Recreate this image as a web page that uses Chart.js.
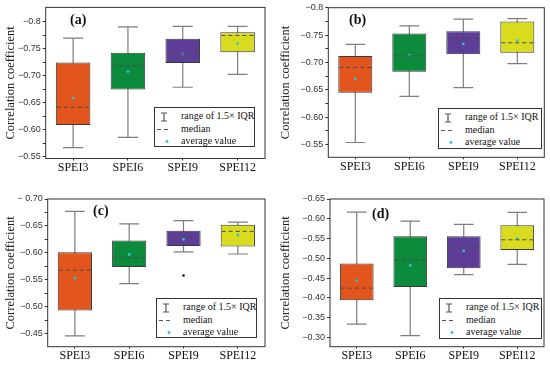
<!DOCTYPE html>
<html>
<head>
<meta charset="utf-8">
<script src="https://cdn.jsdelivr.net/npm/chart.js@4.4.1/dist/chart.umd.min.js"></script>
<style>
  body { margin: 0; background: #fff; }
  #page { position: relative; width: 550px; height: 367px; overflow: hidden; }
  .panel { position: absolute; }
  .tag { position: absolute; font: bold 14px "Liberation Serif", serif; color: #111; }
  .legend {
    position: absolute; border: 1px solid #333; background: #fff;
    font: 10px "Liberation Serif", serif; color: #111; box-sizing: border-box;
    padding: 2px 0 0 0;
  }
  .legend .row { position: relative; height: 12.5px; line-height: 12.5px; padding-left: 26px; white-space: nowrap; }
  .legend svg { position: absolute; left: 0; top: 0; }
</style>
</head>
<body>
<div id="page"></div>
<script>
// Categories shared by every panel
const categories = ['SPEI3', 'SPEI6', 'SPEI9', 'SPEI12'];

// Panel (a)
const aMin    = [-0.770, -0.791, -0.792, -0.792];
const aQ1     = [-0.725, -0.743, -0.769, -0.781];
const aMedian = [-0.642, -0.719, -0.741, -0.775];
const aQ3     = [-0.609, -0.675, -0.724, -0.744];
const aMax    = [-0.567, -0.586, -0.679, -0.703];
const aMean   = [-0.659, -0.708, -0.741, -0.760];
const aTicks  = [-0.8, -0.75, -0.7, -0.65, -0.6, -0.55];
const aLabels = ['\u22120.8', '\u22120.75', '\u22120.70', '\u22120.65', '\u22120.60', '\u22120.55'];

// Panel (b)
const bMin    = [-0.733, -0.767, -0.779, -0.780];
const bQ1     = [-0.712, -0.753, -0.757, -0.775];
const bMedian = [-0.691, -0.712, -0.744, -0.736];
const bQ3     = [-0.645, -0.683, -0.715, -0.718];
const bMax    = [-0.554, -0.638, -0.654, -0.698];
const bMean   = [-0.670, -0.713, -0.734, -0.740];
const bTicks  = [-0.8, -0.75, -0.7, -0.65, -0.6, -0.55];
const bLabels = ['\u22120.8', '\u22120.75', '\u22120.70', '\u22120.65', '\u22120.60', '\u22120.55'];

// Panel (c)
const cMin     = [-0.677, -0.654, -0.660, -0.657];
const cQ1      = [-0.601, -0.623, -0.641, -0.652];
const cMedian  = [-0.568, -0.591, -0.630, -0.640];
const cQ3      = [-0.493, -0.574, -0.613, -0.612];
const cMax     = [-0.446, -0.543, -0.602, -0.598];
const cMean    = [-0.553, -0.597, -0.625, -0.633];
const cOutlier = [null, null, -0.558, null];
const cTicks   = [-0.7, -0.65, -0.6, -0.55, -0.5, -0.45];
const cLabels  = ['\u2212 0.70', '\u22120.65', '\u22120.60', '\u22120.55', '\u22120.50', '\u22120.45'];

// Panel (d)
const dMin    = [-0.617, -0.594, -0.586, -0.616];
const dQ1     = [-0.487, -0.556, -0.556, -0.584];
const dMedian = [-0.425, -0.496, -0.529, -0.547];
const dQ3     = [-0.394, -0.428, -0.475, -0.521];
const dMax    = [-0.334, -0.305, -0.459, -0.485];
const dMean   = [-0.444, -0.482, -0.519, -0.550];
const dTicks  = [-0.65, -0.6, -0.55, -0.5, -0.45, -0.4, -0.35, -0.3];
const dLabels = ['\u22120.65', '\u22120.60', '\u22120.55', '\u22120.50', '\u22120.45', '\u22120.40', '\u22120.35', '\u22120.30'];

const boxColors = ['#E2561D', '#0C8B3D', '#5D3D98', '#D9DB1F'];

const panels = [
  { tag: '(a)', left: 0, top: 0, w: 275, h: 180, yw: 45.7, pt: 6.7, pr: 10, xh: 21.5,
    yMin: -0.827, yMax: -0.547, ticks: aTicks, labels: aLabels,
    min: aMin, q1: aQ1, med: aMedian, q3: aQ3, max: aMax, mean: aMean, out: null,
    tagPos: [70, 12], legend: [154, 107, 101, 40] },
  { tag: '(b)', left: 275, top: 0, w: 275, h: 180, yw: 53.3, pt: 7.7, pr: 5.7, xh: 22.7,
    yMin: -0.8, yMax: -0.527, ticks: bTicks, labels: bLabels,
    min: bMin, q1: bQ1, med: bMedian, q3: bQ3, max: bMax, mean: bMean, out: null,
    tagPos: [349, 12], legend: [438, 108, 104, 41] },
  { tag: '(c)', left: 0, top: 180, w: 275, h: 187, yw: 47.7, pt: 19, pr: 10, xh: 20.3,
    yMin: -0.70, yMax: -0.426, ticks: cTicks, labels: cLabels,
    min: cMin, q1: cQ1, med: cMedian, q3: cQ3, max: cMax, mean: cMean, out: cOutlier,
    tagPos: [93, 203], legend: [156, 298, 101, 40] },
  { tag: '(d)', left: 275, top: 180, w: 275, h: 187, yw: 55, pt: 19, pr: 6, xh: 20.3,
    yMin: -0.65, yMax: -0.277, ticks: dTicks, labels: dLabels,
    min: dMin, q1: dQ1, med: dMedian, q3: dQ3, max: dMax, mean: dMean, out: null,
    tagPos: [372, 206], legend: [439, 298, 103, 41] }
];

function minorTicks(ticks) {
  const all = [];
  ticks.forEach((t, i) => {
    all.push({ value: t, major: true });
    if (i < ticks.length - 1) all.push({ value: (t + ticks[i + 1]) / 2, major: false });
  });
  return all;
}

// Whiskers, caps, median dashes and the frame, one plugin per panel
function makeBoxPlugin(p) {
  return {
    id: 'boxParts',
    beforeDatasetsDraw(chart) {
      const y = chart.scales.y;
      const bars = chart.getDatasetMeta(0).data;
      const ctx = chart.ctx;
      ctx.save();
      ctx.strokeStyle = '#7d7d7d';
      ctx.lineWidth = 1.2;
      bars.forEach((bar, i) => {
        const cap = bar.width * 0.29;
        const yLo = y.getPixelForValue(p.min[i]);
        const yHi = y.getPixelForValue(p.max[i]);
        ctx.beginPath();
        ctx.moveTo(bar.x, yLo); ctx.lineTo(bar.x, yHi);
        ctx.moveTo(bar.x - cap, yLo); ctx.lineTo(bar.x + cap, yLo);
        ctx.moveTo(bar.x - cap, yHi); ctx.lineTo(bar.x + cap, yHi);
        ctx.stroke();
      });
      ctx.restore();
    },
    afterDatasetsDraw(chart) {
      const y = chart.scales.y;
      const bars = chart.getDatasetMeta(0).data;
      const ctx = chart.ctx;
      const area = chart.chartArea;
      ctx.save();
      ctx.strokeStyle = '#4a4a4a';
      ctx.lineWidth = 1;
      ctx.setLineDash([4, 3]);
      bars.forEach((bar, i) => {
        const ym = y.getPixelForValue(p.med[i]);
        ctx.beginPath();
        ctx.moveTo(bar.x - bar.width / 2 + 1, ym);
        ctx.lineTo(bar.x + bar.width / 2 - 1, ym);
        ctx.stroke();
      });
      ctx.setLineDash([]);
      ctx.strokeStyle = '#333';
      ctx.lineWidth = 1;
      ctx.strokeRect(area.left, area.top, area.right - area.left, area.bottom - area.top);
      ctx.restore();
    }
  };
}

const page = document.getElementById('page');

panels.forEach(p => {
  const box = document.createElement('div');
  box.className = 'panel';
  Object.assign(box.style, { left: p.left + 'px', top: p.top + 'px', width: p.w + 'px', height: p.h + 'px' });
  const canvas = document.createElement('canvas');
  box.appendChild(canvas);
  page.appendChild(box);

  const datasets = [
    {
      type: 'bar',
      data: p.q1.map((v, i) => [v, p.q3[i]]),
      backgroundColor: boxColors,
      borderColor: '#3a3a3a',
      borderWidth: 1,
      borderSkipped: false,
      barPercentage: 0.63,
      categoryPercentage: 1,
      order: 3
    },
    {
      type: 'line',
      data: p.mean,
      showLine: false,
      pointRadius: 1.4,
      pointBackgroundColor: '#2fc4d0',
      pointBorderWidth: 0,
      order: 1
    }
  ];
  if (p.out) {
    datasets.push({
      type: 'line',
      data: p.out,
      showLine: false,
      pointRadius: 1.3,
      pointBackgroundColor: '#111',
      pointBorderWidth: 0,
      order: 1
    });
  }

  new Chart(canvas, {
    data: { labels: categories, datasets },
    options: {
      responsive: true,
      maintainAspectRatio: false,
      animation: false,
      layout: { padding: { top: p.pt, right: p.pr, left: 0, bottom: 0 } },
      plugins: { legend: { display: false }, tooltip: { enabled: false } },
      scales: {
        x: {
          grid: { display: true, drawOnChartArea: false, offset: false, tickLength: 2, color: '#333' },
          border: { display: false },
          ticks: { padding: 0, color: '#111', font: { family: 'Liberation Serif', size: 12 } },
          afterFit: s => { s.height = p.xh; }
        },
        y: {
          reverse: true,
          min: p.yMin,
          max: p.yMax,
          afterBuildTicks: s => { s.ticks = minorTicks(p.ticks); },
          grid: { display: true, drawOnChartArea: false, tickLength: 3, color: '#333' },
          border: { display: false },
          ticks: {
            padding: 2,
            color: '#333',
            font: { family: 'Liberation Sans', size: 9 },
            callback: (v) => {
              const i = p.ticks.findIndex(t => Math.abs(t - v) < 1e-9);
              return i >= 0 ? p.labels[i] : '';
            }
          },
          title: {
            display: true,
            text: 'Correlation coefficient',
            color: '#222',
            padding: { top: 3, bottom: 0 },
            font: { family: 'Liberation Serif', size: 12.5 }
          },
          afterFit: s => { s.width = p.yw; }
        }
      }
    },
    plugins: [makeBoxPlugin(p)]
  });

  const tag = document.createElement('div');
  tag.className = 'tag';
  tag.textContent = p.tag;
  tag.style.left = p.tagPos[0] + 'px';
  tag.style.top = p.tagPos[1] + 'px';
  page.appendChild(tag);

  const lg = document.createElement('div');
  lg.className = 'legend';
  Object.assign(lg.style, { left: p.legend[0] + 'px', top: p.legend[1] + 'px', width: p.legend[2] + 'px', height: p.legend[3] + 'px' });
  lg.innerHTML = `
    <div class="row"><svg width="24" height="13"><path d="M6 3h6M9 3v8M6 11h6" stroke="#555" stroke-width="1.2" fill="none"/></svg>range of 1.5\u00d7 IQR</div>
    <div class="row"><svg width="24" height="13"><path d="M2 6.5h13" stroke="#555" stroke-width="1" stroke-dasharray="4 3" fill="none"/></svg>median</div>
    <div class="row"><svg width="24" height="13"><circle cx="12" cy="6.5" r="1.4" fill="#2fc4d0"/></svg>average value</div>`;
  page.appendChild(lg);
});
</script>
</body>
</html>
